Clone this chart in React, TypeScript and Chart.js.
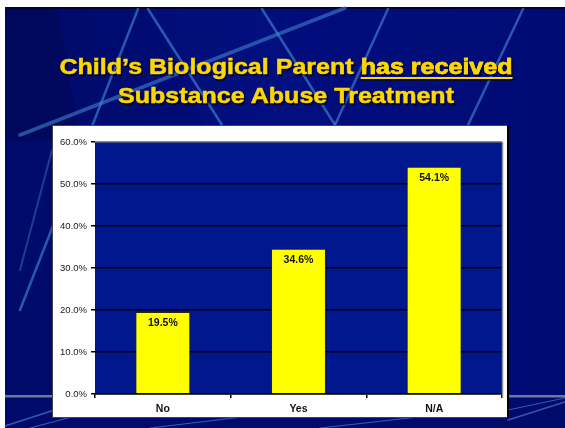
import React, { useEffect, useRef } from 'react';
import { Chart, registerables } from 'chart.js';

Chart.register(...registerables);

// ---- data ----
const categories = ['No', 'Yes', 'N/A'];
const percentValues = [19.5, 34.6, 54.1];
const yMin = 0;
const yMax = 60;
const yStep = 10;
const titleLine1Plain = 'Child\u2019s Biological Parent ';
const titleLine1Underlined = 'has received';
const titleLine2 = 'Substance Abuse Treatment';

const W = 565;
const H = 428;
const FONT = '"Liberation Sans", Arial, Helvetica, sans-serif';

function stroke(ctx: CanvasRenderingContext2D, x1: number, y1: number, x2: number, y2: number, color: string, width: number) {
  ctx.beginPath();
  ctx.moveTo(x1, y1);
  ctx.lineTo(x2, y2);
  ctx.strokeStyle = color;
  ctx.lineWidth = width;
  ctx.stroke();
}

function poly(ctx: CanvasRenderingContext2D, pts: number[][], color: string) {
  ctx.beginPath();
  ctx.moveTo(pts[0][0], pts[0][1]);
  for (let i = 1; i < pts.length; i++) ctx.lineTo(pts[i][0], pts[i][1]);
  ctx.closePath();
  ctx.fillStyle = color;
  ctx.fill();
}

const slidePlugin = {
  id: 'slideBackground',
  beforeDraw(chart: any) {
    const ctx: CanvasRenderingContext2D = chart.ctx;
    ctx.save();
    ctx.fillStyle = '#ffffff';
    ctx.fillRect(0, 0, W, H);

    const g = ctx.createLinearGradient(5, 0, W, 0);
    g.addColorStop(0, '#000a68');
    g.addColorStop(0.5, '#000d7c');
    g.addColorStop(1, '#000b74');
    ctx.fillStyle = g;
    ctx.fillRect(5, 8, W - 5, H - 8);

    // subtle shaded wedges
    poly(ctx, [[5, 9], [58, 9], [80, 140], [5, 140]], 'rgba(0,0,40,0.18)');
    poly(ctx, [[150, 9], [260, 9], [330, 125], [205, 125]], 'rgba(20,40,160,0.10)');
    poly(ctx, [[390, 9], [520, 9], [470, 125], [345, 125]], 'rgba(10,25,140,0.08)');

    // top border
    ctx.fillStyle = '#00043a';
    ctx.fillRect(5, 7, W - 5, 2);

    ctx.lineCap = 'round';
    const sc = 'rgba(70,140,215,0.6)';
    // streaks
    stroke(ctx, 138, 9, 20, 310, sc, 2.5);
    stroke(ctx, 148, 9, 222, 125, sc, 2.5);
    stroke(ctx, 20, 135, 345, 8, 'rgba(70,140,215,0.55)', 3.5);
    stroke(ctx, 262, 9, 335, 125, sc, 2.5);
    stroke(ctx, 388, 9, 335, 125, sc, 2.5);
    stroke(ctx, 523, 9, 468, 125, sc, 2.5);
    stroke(ctx, 52, 150, 20, 270, 'rgba(70,140,215,0.4)', 2);

    // bottom band
    ctx.fillStyle = '#000a6a';
    ctx.fillRect(5, 398, W - 5, H - 398);
    ctx.fillStyle = 'rgba(130,140,165,0.85)';
    ctx.fillRect(5, 395, W - 5, 2.5);
    const bc = 'rgba(90,160,225,0.55)';
    stroke(ctx, 5, 426, 70, 405, bc, 1.5);
    stroke(ctx, 30, 428, 120, 404, bc, 1.2);
    stroke(ctx, 150, 428, 300, 410, bc, 1.2);
    stroke(ctx, 320, 428, 480, 410, bc, 1.2);
    stroke(ctx, 508, 420, 565, 402, bc, 1.5);
    stroke(ctx, 508, 410, 565, 398, bc, 1.2);

    // white chart box
    ctx.fillStyle = '#ffffff';
    ctx.fillRect(52, 125, 456, 293);
    ctx.strokeStyle = '#444';
    ctx.lineWidth = 1;
    ctx.strokeRect(52.5, 125.5, 455, 292);
    ctx.fillStyle = '#000';
    ctx.fillRect(507, 125, 2, 293);

    // plot area
    const a = chart.chartArea;
    ctx.fillStyle = '#00178e';
    ctx.fillRect(a.left, a.top, a.right - a.left, a.bottom - a.top);
    ctx.restore();
  },
  afterDraw(chart: any) {
    const ctx: CanvasRenderingContext2D = chart.ctx;
    const a = chart.chartArea;
    ctx.save();
    stroke(ctx, a.right + 0.5, a.top, a.right + 0.5, a.bottom + 4, '#8a8a8a', 1.5);
    ctx.restore();
  },
};

const labelPlugin = {
  id: 'barValueLabels',
  afterDatasetsDraw(chart: any) {
    const ctx: CanvasRenderingContext2D = chart.ctx;
    const meta = chart.getDatasetMeta(0);
    ctx.save();
    ctx.font = `bold 10.5px ${FONT}`;
    ctx.fillStyle = '#111';
    ctx.textAlign = 'center';
    ctx.textBaseline = 'middle';
    meta.data.forEach((el: any, i: number) => {
      ctx.fillText(percentValues[i].toFixed(1) + '%', el.x, el.y + 11);
    });
    ctx.restore();
  },
};

export default function App() {
  const ref = useRef<HTMLCanvasElement | null>(null);

  useEffect(() => {
    if (!ref.current) return;
    const chart = new Chart(ref.current, {
      type: 'bar',
      data: {
        labels: categories,
        datasets: [
          {
            data: percentValues,
            backgroundColor: '#ffff00',
            borderColor: '#2a2a00',
            borderWidth: 1,
            barPercentage: 0.405,
            categoryPercentage: 1.0,
          },
        ],
      },
      options: {
        responsive: false,
        animation: false,
        devicePixelRatio: 1,
        layout: { padding: { left: 0, right: 63, top: 142, bottom: 14 } },
        plugins: {
          legend: { display: false },
          title: { display: false },
          tooltip: { enabled: false },
        },
        scales: {
          x: {
            offset: true,
            grid: {
              display: true,
              drawOnChartArea: false,
              drawTicks: true,
              tickLength: 4,
              offset: true,
              color: '#000',
              lineWidth: 1.5,
            },
            border: { display: true, color: '#000', width: 1.5 },
            ticks: {
              color: '#111',
              font: { family: FONT, size: 10.5, weight: 'bold' },
              padding: 5,
            },
            afterFit: (s: any) => {
              s.height = 20;
            },
          },
          y: {
            min: yMin,
            max: yMax,
            grid: {
              color: (c: any) => (c.tick && c.tick.value === yMax ? '#8a8a8a' : '#000'),
              lineWidth: 1.5,
              tickLength: 4,
              tickColor: '#000',
            },
            border: { display: false },
            ticks: {
              stepSize: yStep,
              color: '#1a1a1a',
              font: { family: FONT, size: 9.5 },
              padding: 4,
              callback: (v: any) => Number(v).toFixed(1) + '%',
            },
            afterFit: (s: any) => {
              s.width = 95;
            },
          },
        },
      },
      plugins: [slidePlugin, labelPlugin],
    });
    return () => chart.destroy();
  }, []);

  const titleStyle: React.CSSProperties = {
    position: 'absolute',
    left: 0,
    width: 572,
    textAlign: 'center',
    whiteSpace: 'nowrap',
    fontFamily: FONT,
    fontWeight: 'bold',
    fontSize: 22,
    lineHeight: '22px',
    color: '#ffd700',
    WebkitTextStroke: '0.5px #ffd700',
    textShadow: '1.5px 1.5px 1px rgba(0,0,30,0.85)',
    transform: 'scaleX(1.139)',
    transformOrigin: '286px 0',
  };

  return (
    <div style={{ position: 'absolute', left: 0, top: 0, width: W, height: H, overflow: 'hidden' }}>
      <canvas ref={ref} width={W} height={H} style={{ position: 'absolute', left: 0, top: 0, width: W, height: H }} />
      <div style={{ ...titleStyle, top: 55.5 }}>
        {titleLine1Plain}
        <span style={{ textDecoration: 'underline', textDecorationThickness: '2px', textUnderlineOffset: '3px' }}>
          {titleLine1Underlined}
        </span>
      </div>
      <div style={{ ...titleStyle, top: 84.5 }}>{titleLine2}</div>
    </div>
  );
}
